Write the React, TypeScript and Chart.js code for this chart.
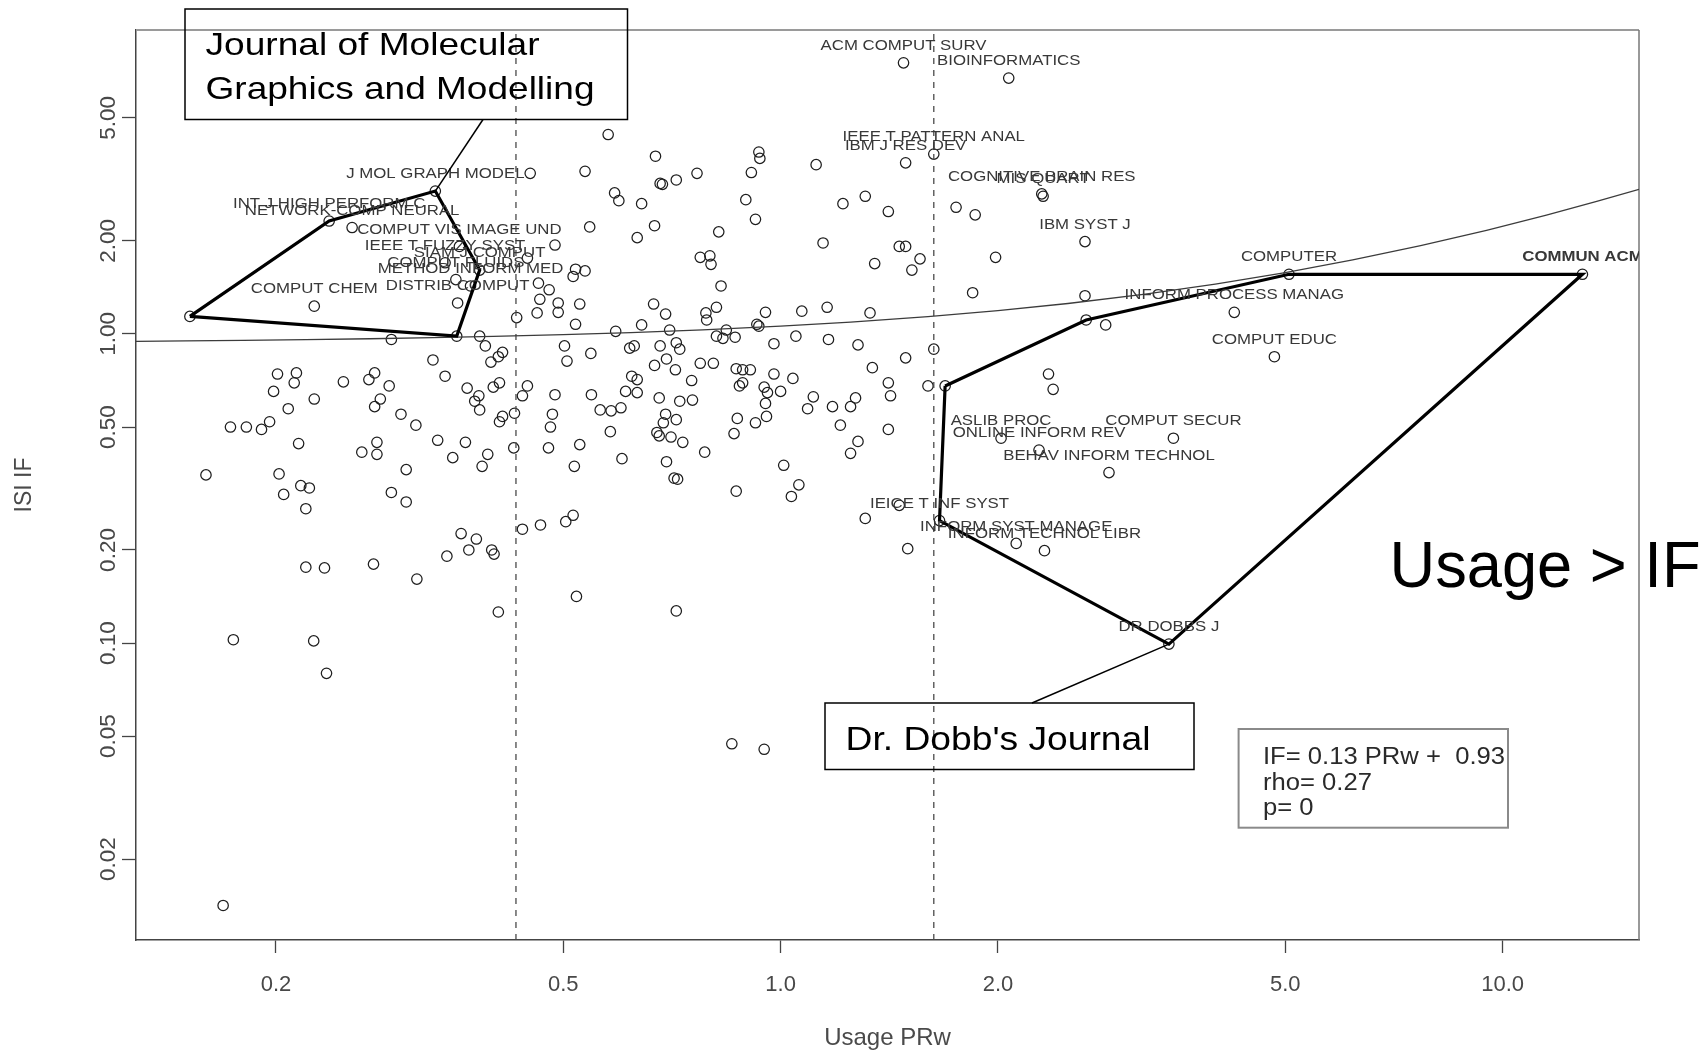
import React, { useEffect, useRef } from 'react';
import { Chart, registerables } from 'chart.js';

Chart.register(...registerables);

// ---------------- data ----------------
// unlabeled journals: usage PRw (x) and ISI impact factor (y)
const usagePRw: number[] = [
  0.577, 0.671, 0.933, 0.936, 1.12, 0.45, 0.536, 0.766, 0.911, 0.681,
  0.686, 0.717, 0.589, 0.597, 0.642, 0.895, 1.22, 1.31, 1.41, 1.75,
  1.86, 0.923, 0.669, 0.544, 0.821, 0.633, 0.487, 1.145, 1.46, 1.49,
  1.985, 1.35, 1.56, 1.52, 0.774, 0.798, 0.801, 0.446, 0.52, 0.536,
  0.516, 0.152, 0.356, 0.827, 0.462, 0.478, 0.464, 0.46, 0.492, 0.492,
  0.527, 0.431, 0.52, 0.667, 0.693, 0.591, 0.642, 0.702, 0.788, 0.815,
  0.79, 0.841, 0.953, 1.07, 1.16, 1.33, 0.927, 0.933, 1.845, 2.64,
  0.383, 0.39, 0.289, 0.815, 0.832, 0.865, 0.979, 1.05, 1.165, 1.28,
  1.63, 1.49, 1.34, 0.412, 0.4065, 0.397, 0.33, 0.343, 0.368, 0.382,
  0.377, 0.383, 0.40, 0.408, 0.412, 0.408, 0.428, 0.439, 0.446, 0.502,
  0.506, 0.546, 0.487, 0.547, 0.483, 0.48, 0.5625, 0.5825, 0.601, 0.287,
  0.274, 0.269, 0.279, 0.274, 0.248, 0.226, 0.208, 0.201, 0.2135, 0.212,
  0.1985, 0.173, 0.182, 0.191, 0.196, 0.298, 0.3125, 0.61, 0.633, 0.622,
  0.633, 0.618, 0.627, 0.681, 0.717, 0.725, 0.695, 0.669, 0.715, 0.679,
  0.693, 0.688, 0.674, 0.679, 0.705, 0.717, 0.753, 0.774, 0.807, 0.868,
  0.886, 0.908, 0.877, 0.886, 0.979, 1.04, 0.725, 0.755, 0.949, 0.959,
  1.0, 0.953, 1.11, 1.09, 1.18, 1.25, 1.27, 1.41, 1.42, 1.60,
  1.69, 0.871, 0.862, 0.923, 0.956, 1.21, 1.41, 0.732, 2.35, 2.385,
  2.65, 2.82, 0.785, 1.28, 1.25, 1.01, 0.712, 0.72, 0.695, 0.603,
  0.581, 1.06, 1.035, 0.868, 0.477, 0.527, 0.518, 0.427, 0.335, 0.366,
  0.3515, 0.393, 0.386, 0.276, 0.276, 0.263, 0.303, 0.215, 0.16, 0.202,
  0.205, 0.2165, 0.2225, 0.22, 0.303, 0.289, 1.46, 1.31, 1.50, 0.516,
  0.504, 0.465, 0.439, 0.361, 0.379, 0.37, 0.401, 0.398, 0.345, 0.3135,
  0.273, 0.22, 0.2335, 0.5215, 0.4065, 0.717, 0.1746, 0.2256, 0.235, 0.856,
  0.949, 0.169,
];
const isiIF: number[] = [
  4.42, 3.76, 3.88, 3.70, 3.53, 3.31, 3.36, 3.31, 3.33, 3.07,
  3.05, 3.15, 2.86, 2.70, 2.64, 2.72, 2.64, 2.79, 2.49, 2.57,
  2.43, 2.35, 2.24, 2.22, 2.14, 2.05, 1.94, 1.97, 1.92, 1.92,
  1.77, 1.69, 1.75, 1.61, 1.77, 1.79, 1.68, 1.76, 1.62, 1.60,
  1.535, 1.14, 0.984, 1.43, 1.46, 1.39, 1.295, 1.17, 1.26, 1.175,
  1.25, 1.13, 1.075, 1.25, 1.16, 1.02, 1.07, 1.03, 1.17, 1.22,
  1.11, 1.03, 1.175, 1.185, 1.22, 1.17, 1.075, 1.06, 1.36, 1.33,
  0.984, 0.915, 0.96, 0.984, 0.968, 0.976, 0.93, 0.984, 0.96, 0.922,
  0.893, 0.837, 0.778, 0.872, 0.844, 0.811, 0.824, 0.73, 0.668, 0.631,
  0.606, 0.568, 0.673, 0.695, 0.541, 0.52, 0.554, 0.631, 0.679, 0.915,
  0.817, 0.865, 0.636, 0.636, 0.55, 0.50, 0.568, 0.564, 0.577, 0.679,
  0.748, 0.712, 0.616, 0.582, 0.70, 0.616, 0.573, 0.742, 0.748, 0.695,
  0.652, 0.50, 0.50, 0.491, 0.52, 0.55, 0.507, 0.652, 0.646, 0.73,
  0.712, 0.90, 0.915, 0.915, 0.937, 0.893, 0.83, 0.791, 0.766, 0.621,
  0.55, 0.516, 0.48, 0.468, 0.464, 0.528, 0.707, 0.804, 0.804, 0.772,
  0.766, 0.766, 0.679, 0.695, 0.742, 0.718, 0.606, 0.611, 0.673, 0.646,
  0.652, 0.596, 0.626, 0.573, 0.582, 0.582, 0.621, 0.695, 0.631, 0.679,
  0.679, 0.533, 0.476, 0.516, 0.541, 0.507, 0.491, 0.446, 0.742, 0.662,
  1.11, 1.07, 0.4145, 0.449, 0.411, 0.376, 0.3415, 0.339, 0.386, 0.395,
  0.483, 0.325, 0.298, 0.31, 0.428, 0.4385, 0.373, 0.428, 0.453, 0.446,
  0.398, 0.408, 0.373, 0.446, 0.408, 0.4145, 0.364, 0.442, 0.35, 0.3525,
  0.3026, 0.323, 0.3175, 0.272, 0.286, 0.307, 0.279, 0.253, 0.202, 0.259,
  0.247, 0.241, 0.2335, 0.226, 0.217, 0.20, 0.194, 0.20, 0.191, 0.161,
  0.18, 0.176, 0.175, 0.1415, 0.126, 0.127, 0.1025, 0.1016, 0.0798, 0.0472,
  0.0453, 0.01415,
];

// labeled journals
const labelNames: string[] = [
  'ACM COMPUT SURV', 'BIOINFORMATICS', 'IEEE T PATTERN ANAL', 'IBM J RES DEV',
  'COGNITIVE BRAIN RES', 'MIS QUART', 'IBM SYST J', 'J MOL GRAPH MODEL',
  'INT J HIGH PERFORM C', 'NETWORK-COMP NEURAL', 'COMPUT VIS IMAGE UND',
  'IEEE T FUZZY SYST', 'SIAM J COMPUT', 'COMPUT FLUIDS', 'METHOD INFORM MED',
  'DISTRIB COMPUT', 'COMPUT CHEM', 'COMPUTER', 'COMMUN ACM',
  'INFORM PROCESS MANAG', 'COMPUT EDUC', 'ASLIB PROC', 'ONLINE INFORM REV',
  'BEHAV INFORM TECHNOL', 'COMPUT SECUR', 'IEICE T INF SYST',
  'INFORM SYST MANAGE', 'INFORM TECHNOL LIBR', 'DR DOBBS J',
];
const labelPRw: number[] = [
  1.48, 2.07, 1.63, 1.49, 2.30, 2.31, 2.64, 0.3325,
  0.237, 0.255, 0.359, 0.343, 0.383, 0.355, 0.372,
  0.357, 0.226, 5.06, 12.9, 4.25, 4.83, 2.02, 2.28,
  2.85, 3.50, 1.66, 2.12, 2.32, 3.45,
];
const labelIF: number[] = [
  7.54, 6.73, 3.82, 3.58, 2.84, 2.79, 1.99, 2.90,
  2.32, 2.21, 1.92, 1.70, 1.61, 1.50, 1.43,
  1.26, 1.23, 1.56, 1.56, 1.175, 0.844, 0.46, 0.421,
  0.356, 0.46, 0.249, 0.21, 0.199, 0.0992,
];

// hull outlines (vertices are journals above)
const hullLeftPRw: number[] = [0.152, 0.237, 0.3325, 0.383, 0.356];
const hullLeftIF: number[] = [1.14, 2.32, 2.90, 1.61, 0.984];
const hullRightPRw: number[] = [1.69, 2.65, 5.06, 12.9, 3.45, 1.66];
const hullRightIF: number[] = [0.679, 1.11, 1.56, 1.56, 0.0992, 0.249];

// vertical dashed split lines (usage)
const splitPRw: number[] = [0.43, 1.63];

// fitted model, as printed in the legend box
const fitSlope = 0.13;
const fitIntercept = 0.93;
const fitRho = 0.27;
const fitP = 0;
const fitSampleX: number[] = [
  0.128, 0.15, 0.18, 0.22, 0.27, 0.33, 0.4, 0.5, 0.62, 0.78, 1, 1.25,
  1.6, 2, 2.5, 3.2, 4, 5, 6.2, 7.7, 9.5, 11.5, 13.5, 15.45,
];

const xTickValues: number[] = [0.2, 0.5, 1, 2, 5, 10];
const xTickLabels: string[] = ['0.2', '0.5', '1.0', '2.0', '5.0', '10.0'];
const yTickValues: number[] = [0.02, 0.05, 0.1, 0.2, 0.5, 1, 2, 5];
const yTickLabels: string[] = ['0.02', '0.05', '0.10', '0.20', '0.50', '1.00', '2.00', '5.00'];

// ---------------- drawing ----------------
const FONT = '"Liberation Sans", Arial, Helvetica, sans-serif';

function fitText(ctx: CanvasRenderingContext2D, text: string, x: number, y: number, width: number, size: number) {
  ctx.font = `${size}px ${FONT}`;
  const w = ctx.measureText(text).width;
  ctx.save();
  ctx.translate(x, y);
  ctx.scale(width / w, 1);
  ctx.textAlign = 'left';
  ctx.textBaseline = 'alphabetic';
  ctx.fillText(text, 0, 0);
  ctx.restore();
}

const annotationPlugin = {
  id: 'rAnnotations',
  beforeDatasetsDraw(chart: any) {
    const { ctx, chartArea: a } = chart;
    ctx.save();
    ctx.strokeStyle = '#9a9a9a';
    ctx.lineWidth = 2;
    ctx.beginPath();
    ctx.moveTo(a.left, a.top);
    ctx.lineTo(a.right, a.top);
    ctx.stroke();
    ctx.strokeStyle = '#777';
    ctx.lineWidth = 1.5;
    ctx.beginPath();
    ctx.moveTo(a.right, a.top);
    ctx.lineTo(a.right, a.bottom);
    ctx.stroke();
    ctx.restore();
  },
  afterDatasetsDraw(chart: any) {
    const { ctx, chartArea: a } = chart;
    const xs = chart.scales.x;
    const ys = chart.scales.y;
    ctx.save();
    ctx.beginPath();
    ctx.rect(a.left, a.top, a.right - a.left, a.bottom - a.top);
    ctx.clip();
    ctx.fillStyle = '#383838';
    ctx.textAlign = 'center';
    ctx.textBaseline = 'middle';
    labelNames.forEach((name, i) => {
      const px = xs.getPixelForValue(labelPRw[i]);
      const py = ys.getPixelForValue(labelIF[i]);
      ctx.font = name === 'COMMUN ACM' ? `bold 15px ${FONT}` : `15px ${FONT}`;
      ctx.save();
      ctx.translate(px, py - 17);
      ctx.scale(1.12, 1);
      ctx.fillText(name, 0, 0);
      ctx.restore();
    });
    ctx.restore();
  },
  afterDraw(chart: any) {
    const { ctx } = chart;
    const xs = chart.scales.x;
    const ys = chart.scales.y;
    const at = (name: string) => {
      const i = labelNames.indexOf(name);
      return [xs.getPixelForValue(labelPRw[i]), ys.getPixelForValue(labelIF[i])];
    };
    ctx.save();
    // callout: Journal of Molecular Graphics and Modelling
    ctx.strokeStyle = '#000';
    ctx.lineWidth = 1.5;
    ctx.strokeRect(185, 9, 442.5, 110.5);
    const mol = at('J MOL GRAPH MODEL');
    ctx.beginPath();
    ctx.moveTo(483, 119.5);
    ctx.lineTo(mol[0], mol[1]);
    ctx.stroke();
    ctx.fillStyle = '#000';
    fitText(ctx, 'Journal of Molecular', 205.5, 55, 334, 32);
    fitText(ctx, 'Graphics and Modelling', 205.5, 98.5, 389, 32);

    // callout: Dr. Dobb's Journal
    ctx.strokeRect(825, 703, 369, 66.5);
    const dob = at('DR DOBBS J');
    ctx.beginPath();
    ctx.moveTo(1032, 703);
    ctx.lineTo(dob[0], dob[1]);
    ctx.stroke();
    fitText(ctx, "Dr. Dobb's Journal", 845.5, 749.5, 305, 34);

    // Usage > IF
    fitText(ctx, 'Usage > IF', 1389.5, 586.5, 311, 64);

    // legend box with fitted model
    ctx.strokeStyle = '#8a8a8a';
    ctx.lineWidth = 2;
    ctx.strokeRect(1238.6, 729, 269.4, 98.7);
    ctx.fillStyle = '#2a2a2a';
    const l1 = `IF= ${fitSlope.toFixed(2)} PRw +  ${fitIntercept.toFixed(2)}`;
    const l2 = `rho= ${fitRho.toFixed(2)}`;
    const l3 = `p= ${fitP}`;
    ctx.font = `23px ${FONT}`;
    const sx = 242 / ctx.measureText(l1).width;
    [l1, l2, l3].forEach((t, i) => {
      ctx.save();
      ctx.translate(1263, 764 + i * 25.5);
      ctx.scale(sx, 1);
      ctx.textAlign = 'left';
      ctx.textBaseline = 'alphabetic';
      ctx.fillText(t, 0, 0);
      ctx.restore();
    });
    ctx.restore();
  },
};

export default function App() {
  const ref = useRef<HTMLCanvasElement | null>(null);

  useEffect(() => {
    if (!ref.current) return;
    const X_MIN = 0.128, X_MAX = 15.45, Y_MIN = 0.01094, Y_MAX = 9.63;

    const points = usagePRw.map((x, i) => ({ x, y: isiIF[i] }));
    const labeled = labelPRw.map((x, i) => ({ x, y: labelIF[i] }));
    const hullL = [...hullLeftPRw, hullLeftPRw[0]].map((x, i) => ({ x, y: [...hullLeftIF, hullLeftIF[0]][i] }));
    const hullR = [...hullRightPRw, hullRightPRw[0]].map((x, i) => ({ x, y: [...hullRightIF, hullRightIF[0]][i] }));
    const fit = fitSampleX.map((x) => ({ x, y: fitSlope * x + fitIntercept }));

    const pointStyle = {
      pointRadius: 5.2,
      pointBorderWidth: 1.25,
      pointBorderColor: '#1e1e1e',
      pointBackgroundColor: 'rgba(0,0,0,0)',
      showLine: false,
    };
    const lineStyle = (color: string, width: number, dash: number[] = []) => ({
      showLine: true,
      borderColor: color,
      borderWidth: width,
      borderDash: dash,
      pointRadius: 0,
      tension: 0,
      fill: false,
    });

    const chart = new Chart(ref.current, {
      type: 'scatter',
      data: {
        datasets: [
          { label: 'hull left', data: hullL, ...lineStyle('#000', 3.2) },
          { label: 'hull right', data: hullR, ...lineStyle('#000', 3.2) },
          { label: 'fit', data: fit, ...lineStyle('#3c3c3c', 1.3) },
          ...splitPRw.map((v) => ({
            label: 'split',
            data: [{ x: v, y: Y_MIN }, { x: v, y: Y_MAX }],
            ...lineStyle('#4a4a4a', 1.3, [6, 6]),
          })),
          { label: 'labeled', data: labeled, ...pointStyle },
          { label: 'journals', data: points, ...pointStyle },
        ] as any,
      },
      options: {
        animation: false,
        responsive: false,
        events: [],
        layout: { padding: { left: 0, top: 30, right: 63, bottom: 0 } },
        plugins: { legend: { display: false }, tooltip: { enabled: false }, title: { display: false } },
        scales: {
          x: {
            type: 'logarithmic',
            min: X_MIN,
            max: X_MAX,
            afterBuildTicks: (s: any) => { s.ticks = xTickValues.map((v) => ({ value: v })); },
            afterFit: (s: any) => { s.height = 113; },
            ticks: {
              autoSkip: false,
              minRotation: 0,
              maxRotation: 0,
              padding: 19,
              color: '#484848',
              font: { family: FONT, size: 22 },
              callback: (v: any) => xTickLabels[xTickValues.indexOf(Number(v))] ?? '',
            },
            grid: { drawOnChartArea: false, drawTicks: true, tickLength: 13, tickColor: '#444', tickWidth: 1.3, color: '#444' },
            border: { display: true, color: '#444', width: 1.5 },
            title: { display: true, text: 'Usage PRw', color: '#4a4a4a', font: { family: FONT, size: 24 }, padding: { top: 0, bottom: 0 } },
          },
          y: {
            type: 'logarithmic',
            min: Y_MIN,
            max: Y_MAX,
            afterBuildTicks: (s: any) => { s.ticks = yTickValues.map((v) => ({ value: v })); },
            afterFit: (s: any) => { s.width = 136; },
            ticks: {
              autoSkip: false,
              minRotation: 90,
              maxRotation: 90,
              crossAlign: 'center',
              padding: -9,
              color: '#484848',
              font: { family: FONT, size: 22.5 },
              callback: (v: any) => yTickLabels[yTickValues.indexOf(Number(v))] ?? '',
            },
            grid: { drawOnChartArea: false, drawTicks: true, tickLength: 14, tickColor: '#444', tickWidth: 1.3, color: '#444' },
            border: { display: true, color: '#444', width: 1.5 },
            title: { display: true, text: 'ISI IF', color: '#4a4a4a', font: { family: FONT, size: 23 }, padding: { top: 11, bottom: 0 } },
          },
        },
      } as any,
      plugins: [annotationPlugin],
    });
    return () => chart.destroy();
  }, []);

  return (
    <div style={{ position: 'absolute', left: 0, top: 0, width: 1702, height: 1053, background: '#fff' }}>
      <canvas ref={ref} width={1702} height={1053} style={{ display: 'block', width: 1702, height: 1053 }} />
    </div>
  );
}
